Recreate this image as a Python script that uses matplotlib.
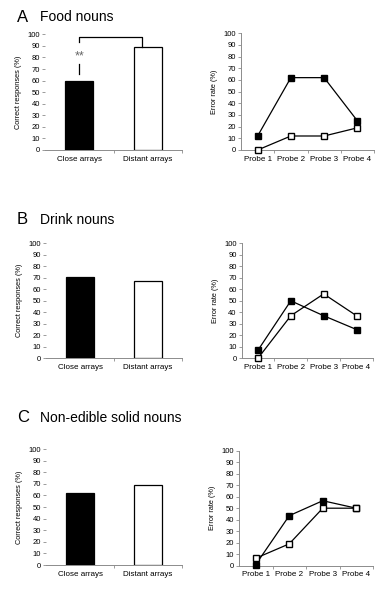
import matplotlib.pyplot as plt

plt.rcParams['font.family'] = ['Liberation Sans', 'DejaVu Sans']

# Data
bar_labels = ['Close arrays', 'Distant arrays']
probe_labels = ['Probe 1', 'Probe 2', 'Probe 3', 'Probe 4']

panel_letters = ['A', 'B', 'C']
panel_titles = ['Food nouns', 'Drink nouns', 'Non-edible solid nouns']

correct_food = [60, 89]
correct_drink = [71, 67]
correct_solid = [62, 69]

close_err_food = [12, 62, 62, 25]
distant_err_food = [0, 12, 12, 19]
close_err_drink = [7, 50, 37, 25]
distant_err_drink = [0, 37, 56, 37]
close_err_solid = [1, 43.5, 56.5, 50]
distant_err_solid = [6.5, 19, 50, 50]

bars = [correct_food, correct_drink, correct_solid]
close_lines = [close_err_food, close_err_drink, close_err_solid]
distant_lines = [distant_err_food, distant_err_drink, distant_err_solid]

W, H = 389, 595
fig = plt.figure(figsize=(W / 100, H / 100), dpi=100)

GRAY = '#8c8c8c'
TICK_FS = 5.5

# axes boxes in pixels: (left, top, right, bottom)
bar_boxes = [(45, 34.3, 182, 150), (46, 243.3, 182, 358.3), (46, 449, 182, 565)]
line_boxes = [(241, 33.3, 374, 150), (241.5, 243.3, 373, 358.3), (239, 450.7, 373, 565.7)]
title_y = [17, 220, 418]


def px_axes(box):
    l, t, r, b = box
    return fig.add_axes([l / W, 1 - b / H, (r - l) / W, (b - t) / H])


def style_y(ax, label):
    ax.set_ylim(0, 100)
    ax.set_yticks(range(0, 101, 10))
    ax.tick_params(axis='y', labelsize=TICK_FS, length=2, width=0.6, color=GRAY, pad=1.5)
    ax.set_ylabel(label, fontsize=5.3, labelpad=4)
    ax.spines['top'].set_visible(False)
    ax.spines['right'].set_visible(False)
    ax.spines['bottom'].set_color(GRAY)
    ax.spines['bottom'].set_linewidth(0.7)


for i in range(3):
    # bar chart of correct responses
    ax = px_axes(bar_boxes[i])
    x = [0, 1]
    ax.bar(x, bars[i], width=0.41, color=['black', 'white'], edgecolor='black', linewidth=0.9)
    ax.set_xlim(-0.5, 1.5)
    style_y(ax, 'Correct responses (%)')
    ax.spines['left'].set_visible(False)
    ax.set_xticks(x)
    ax.set_xticklabels(bar_labels, fontsize=5.8)
    ax.tick_params(axis='x', length=0, pad=4)
    ax.set_xticks([0.5, 1.5], minor=True)
    ax.tick_params(axis='x', which='minor', length=2, width=0.6, color=GRAY)

    if i == 0:
        # significance bracket
        ax.plot([0, 0, 0.92, 0.92], [93, 97.7, 97.7, bars[i][1]], color='black',
                lw=0.9, clip_on=False)
        ax.text(0, 81, '**', ha='center', va='center', fontsize=9, color='#666666')
        ax.plot([0, 0], [66, 74], color='black', lw=0.9)

    fig.text(17 / W, 1 - title_y[i] / H, panel_letters[i], fontsize=12, va='center', ha='left')
    fig.text(40 / W, 1 - title_y[i] / H, panel_titles[i], fontsize=10, va='center', ha='left')

    # line chart of error rates
    ax = px_axes(line_boxes[i])
    xp = range(len(probe_labels))
    ax.plot(xp, close_lines[i], color='black', lw=0.9, marker='s', markersize=4.3,
            markerfacecolor='black', markeredgecolor='black', clip_on=False, zorder=3)
    ax.plot(xp, distant_lines[i], color='black', lw=0.9, marker='s', markersize=4.3,
            markerfacecolor='white', markeredgecolor='black', clip_on=False, zorder=3)
    ax.set_xlim(-0.5, 3.5)
    style_y(ax, 'Error rate (%)')
    ax.spines['left'].set_color(GRAY)
    ax.spines['left'].set_linewidth(0.7)
    ax.set_xticks(list(xp))
    ax.set_xticklabels(probe_labels, fontsize=5.8)
    ax.tick_params(axis='x', length=0, pad=4)
    ax.set_xticks([0.5, 1.5, 2.5, 3.5], minor=True)
    ax.tick_params(axis='x', which='minor', length=2, width=0.6, color=GRAY)

fig.savefig('out.png', dpi=100)
